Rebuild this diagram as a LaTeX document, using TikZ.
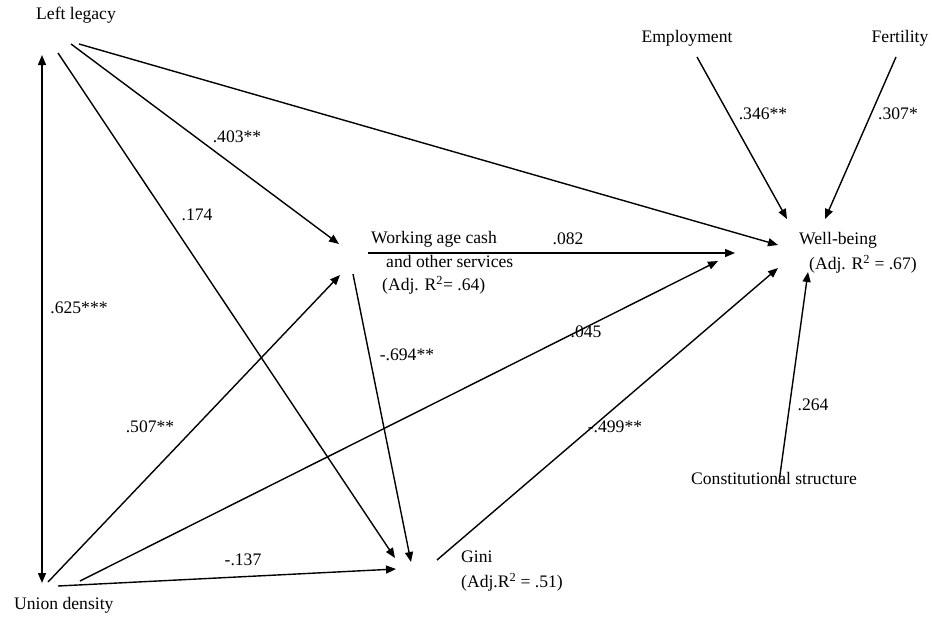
\documentclass[tikz,border=0pt]{standalone}
\usepackage{fontspec}
\setmainfont{Liberation Serif}
\usetikzlibrary{arrows.meta}
\begin{document}
\begin{tikzpicture}[x=1pt,y=-1pt,
  txt/.style={inner sep=0pt, font=\fontsize{17.6}{21}\selectfont, text height=0.7em, text depth=0.2em},
  lab/.style={txt},
  arr/.style={line width=1.4pt, -{Triangle[length=10pt,width=8pt]}},
  dbl/.style={line width=1.4pt, {Triangle[length=10pt,width=8pt]}-{Triangle[length=10pt,width=8pt]}}]
\useasboundingbox (0,0) rectangle (932,619);
% text nodes
\node[txt,anchor=west] (LL) at (36,17) {Left legacy};
\node[txt,anchor=west] (UD) at (14,607) {Union density};
\node[txt] (EMP) at (687,40) {Employment};
\node[txt] (FER) at (900,40) {Fertility};
\node[txt,anchor=west] (WB1) at (799,242) {Well-being};
\node[txt,anchor=west] (WB2) at (809,267) {(Adj. R\textsuperscript{2} = .67)};
\node[txt,anchor=west] (WA1) at (371,241) {Working age cash};
\node[txt,anchor=west] (WA2) at (386,265) {and other services};
\node[txt,anchor=west] (WA3) at (382,288) {(Adj. R\textsuperscript{2}= .64)};
\node[txt,anchor=west] (G1) at (461,560) {Gini};
\node[txt,anchor=west] (G2) at (461,585) {(Adj.R\textsuperscript{2} = .51)};
\node[txt,anchor=west] (CS) at (691,482) {Constitutional structure};
% connector end points
\coordinate (LLa) at (79,44);
\coordinate (LLb) at (71,44);
\coordinate (LLc) at (58,53);
\coordinate (LLd) at (42,55);
\coordinate (UDa) at (80,581);
\coordinate (UDb) at (48,582);
\coordinate (UDc) at (58,586);
\coordinate (UDd) at (42,583);
\coordinate (WAin1) at (339,244);
\coordinate (WAin2) at (340,275);
\coordinate (WAout1) at (353,274);
\coordinate (WAout2) at (368,253);
\coordinate (Gin1) at (395,558);
\coordinate (Gin2) at (396,569);
\coordinate (Gin3) at (411,562);
\coordinate (Gout) at (437,560);
\coordinate (WBin1) at (778,245);
\coordinate (WBin2) at (718,261);
\coordinate (WBin3) at (735,253);
\coordinate (WBin4) at (778,268);
\coordinate (WBin5) at (787,219);
\coordinate (WBin6) at (825,219);
\coordinate (WBin7) at (808,272);
\coordinate (EMPo) at (697,57);
\coordinate (FERo) at (896,57);
\coordinate (CSo) at (779,482);
% connectors
\draw[dbl] (LLd) -- (UDd);
\draw[arr] (LLa) -- (WBin1);
\draw[arr] (LLb) -- (WAin1);
\draw[arr] (LLc) -- (Gin1);
\draw[arr] (UDa) -- (WBin2);
\draw[arr] (UDb) -- (WAin2);
\draw[arr] (UDc) -- (Gin2);
\draw[arr] (WAout1) -- (Gin3);
\draw[arr] (WAout2) -- (WBin3);
\draw[arr] (Gout) -- (WBin4);
\draw[arr] (EMPo) -- (WBin5);
\draw[arr] (FERo) -- (WBin6);
\draw[arr] (CSo) -- (WBin7);
% coefficient labels
\node[lab] (l403) at (237,140) {.403**};
\node[lab] (l174) at (197,218) {.174};
\node[lab] (l625) at (79,311) {.625***};
\node[lab] (l507) at (150,430) {.507**};
\node[lab] (l137) at (243,563) {-.137};
\node[lab] (l082) at (568,242) {.082};
\node[lab] (l694) at (407,358) {-.694**};
\node[lab] (l045) at (586,335) {.045};
\node[lab] (l499) at (615,430) {-.499**};
\node[lab] (l346) at (763,117) {.346**};
\node[lab] (l307) at (898,117) {.307*};
\node[lab] (l264) at (813,408) {.264};
\end{tikzpicture}
\end{document}
